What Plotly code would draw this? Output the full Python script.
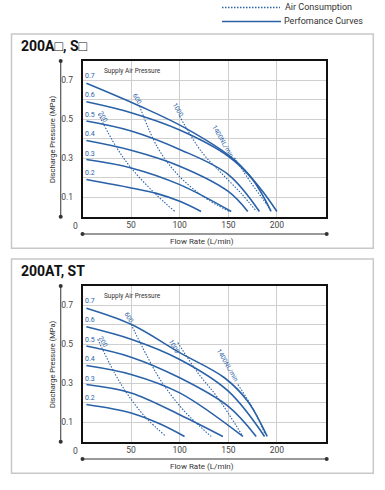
import plotly.graph_objects as go

# ---------------- data ----------------
supply_levels = ["0.7", "0.6", "0.5", "0.4", "0.3", "0.2"]
supply_values = [0.7, 0.6, 0.5, 0.4, 0.3, 0.2]

# Chart 1 : 200A□, S□  -- performance curves (flow L/min, pressure MPa)
a_perf_x = {
    "0.7": [4, 58.6, 105, 156, 184, 200],
    "0.6": [4, 50, 100, 150, 175, 194],
    "0.5": [4, 50, 100, 150, 182],
    "0.4": [4, 50, 100, 150, 170],
    "0.3": [4, 50, 100, 153],
    "0.2": [4, 50, 76, 100, 122],
}
a_perf_y = {
    "0.7": [0.686, 0.569, 0.457, 0.293, 0.138, 0.026],
    "0.6": [0.590, 0.534, 0.445, 0.310, 0.19, 0.026],
    "0.5": [0.491, 0.440, 0.345, 0.216, 0.026],
    "0.4": [0.391, 0.341, 0.259, 0.129, 0.026],
    "0.3": [0.293, 0.250, 0.164, 0.026],
    "0.2": [0.190, 0.147, 0.119, 0.078, 0.026],
}
# Chart 1 air consumption (NL/min)
air_levels = ["200", "600", "1000", "1400NL/min"]
a_air_x = {
    "200": [16.4, 34.6, 50, 74, 95],
    "600": [58.6, 77.5, 98, 125, 151],
    "1000": [99.8, 122, 142.7, 163, 179],
    "1400NL/min": [156.4, 173.6, 192.5],
}
a_air_y = {
    "200": [0.526, 0.359, 0.250, 0.121, 0.026],
    "600": [0.569, 0.353, 0.215, 0.10, 0.026],
    "1000": [0.517, 0.336, 0.224, 0.12, 0.026],
    "1400NL/min": [0.302, 0.172, 0.043],
}
a_air_label_x = [21, 56, 98, 144.5]
a_air_label_y = [0.51, 0.603, 0.546, 0.382]

# Chart 2 : 200AT, ST
t_perf_x = {
    "0.7": [4, 50, 100, 146, 170, 190],
    "0.6": [4, 50, 100, 150, 187.3],
    "0.5": [4, 50, 100, 150, 178.7],
    "0.4": [4, 50, 100, 165],
    "0.3": [4, 50, 100, 144.4],
    "0.2": [4, 50, 80, 105],
}
t_perf_y = {
    "0.7": [0.686, 0.603, 0.457, 0.328, 0.207, 0.026],
    "0.6": [0.590, 0.526, 0.422, 0.259, 0.026],
    "0.5": [0.491, 0.434, 0.328, 0.181, 0.026],
    "0.4": [0.391, 0.345, 0.250, 0.026],
    "0.3": [0.293, 0.250, 0.138, 0.026],
    "0.2": [0.190, 0.147, 0.09, 0.026],
}
t_air_x = {
    "200": [15.7, 32.9, 46.6, 65.5, 86],
    "600": [50, 65.5, 81, 105, 132.4],
    "1000": [98, 118.7, 139.3, 165],
    "1400NL/min": [159.9, 177, 187.3],
}
t_air_y = {
    "200": [0.526, 0.353, 0.241, 0.121, 0.026],
    "600": [0.603, 0.448, 0.310, 0.155, 0.026],
    "1000": [0.509, 0.353, 0.224, 0.026],
    "1400NL/min": [0.293, 0.155, 0.043],
}
t_air_label_x = [21, 47, 94, 148.7]
t_air_label_y = [0.51, 0.638, 0.485, 0.392]

x_ticks = [50, 100, 150, 200]
y_grid = [0.1, 0.2, 0.3, 0.4, 0.5, 0.6, 0.7]
y_ticktext = ["0.1", "", "0.3", "", "0.5", "", "0.7"]
panel_titles = ["200A\u25a1, S\u25a1", "200AT, ST"]

# ---------------- styling ----------------
W, H = 385, 490
BLUE = "#2a62a8"
FONT = "Roboto"
DOTS = "1.5px,1.5px"


def px(x):
    return x / W


def py(y):
    return 1 - y / H


def note(x, y, text, size, color="#333", xanchor="center", **kw):
    return dict(x=px(x), y=py(y), xref="paper", yref="paper", text=text,
                showarrow=False, xanchor=xanchor, yanchor="middle",
                font=dict(size=size, color=color, family=FONT), **kw)


fig = go.Figure()

panels = [
    (a_perf_x, a_perf_y, a_air_x, a_air_y, a_air_label_x, a_air_label_y, "x", "y", 0),
    (t_perf_x, t_perf_y, t_air_x, t_air_y, t_air_label_x, t_air_label_y, "x2", "y2", 225),
]

annotations = []
shapes = []

for pi, (pxd, pyd, axd, ayd, alx, aly, xa, ya, off) in enumerate(panels):
    for lvl in supply_levels:
        fig.add_trace(go.Scatter(
            x=pxd[lvl], y=pyd[lvl], mode="lines", xaxis=xa, yaxis=ya,
            line=dict(color=BLUE, width=1.6, shape="spline", smoothing=1.0),
            showlegend=False, hoverinfo="skip"))
    for lvl in air_levels:
        fig.add_trace(go.Scatter(
            x=axd[lvl], y=ayd[lvl], mode="lines", xaxis=xa, yaxis=ya,
            line=dict(color=BLUE, width=1.1, dash=DOTS, shape="spline", smoothing=1.0),
            showlegend=False, hoverinfo="skip"))
    # supply pressure labels
    for lvl, v in zip(supply_levels, supply_values):
        annotations.append(dict(x=8, y=v + 0.024, xref=xa, yref=ya, text=lvl,
                                showarrow=False, xanchor="center", yanchor="middle",
                                font=dict(size=7, color=BLUE, family=FONT)))
    # air consumption labels
    for lvl, lx, ly in zip(air_levels, alx, aly):
        annotations.append(dict(x=lx, y=ly, xref=xa, yref=ya, text=lvl, textangle=60,
                                showarrow=False, xanchor="center", yanchor="middle",
                                font=dict(size=6.5, color=BLUE, family=FONT)))
    annotations.append(note(102, 71 + off, "Supply Air Pressure", 6.5, xanchor="left"))
    # panel title
    annotations.append(note(19, 46 + off, "<b>%s</b>" % panel_titles[pi], 14,
                            color="#111", xanchor="left"))
    # axis titles / origin
    annotations.append(note(52, 139 + off, "Discharge Pressure (MPa)", 7.5, textangle=-90))
    annotations.append(note(202, 241 + off, "Flow Rate (L/min)", 8))
    annotations.append(note(75, 226 + off, "0", 8.5, color="#444"))
    # panel frame
    shapes.append(dict(type="rect", xref="paper", yref="paper",
                       x0=px(11.5), x1=px(373.3), y0=py(248.3 + off), y1=py(34 + off),
                       line=dict(color="#c8c8c8", width=1.5), layer="below"))
    # decorative y-axis line
    shapes.append(dict(type="line", xref="paper", yref="paper",
                       x0=px(60.7), x1=px(60.7), y0=py(61 + off), y1=py(216.7 + off),
                       line=dict(color="#555", width=1.2)))
    # decorative x-axis line
    shapes.append(dict(type="line", xref="paper", yref="paper",
                       x0=px(82.5), x1=px(326.7), y0=py(234 + off), y1=py(234 + off),
                       line=dict(color="#999", width=1.8)))
    for (cx, cy) in [(60.7, 61), (60.7, 216.7), (82.5, 234), (326.7, 234)]:
        shapes.append(dict(type="circle", xref="paper", yref="paper",
                           x0=px(cx - 2), x1=px(cx + 2), y0=py(cy + off + 2), y1=py(cy + off - 2),
                           fillcolor="#333", line=dict(width=0)))

# legend (drawn)
shapes.append(dict(type="line", xref="paper", yref="paper", x0=px(222), x1=px(280),
                   y0=py(7.5), y1=py(7.5), line=dict(color=BLUE, width=1.3, dash=DOTS)))
shapes.append(dict(type="line", xref="paper", yref="paper", x0=px(222), x1=px(281),
                   y0=py(21.5), y1=py(21.5), line=dict(color=BLUE, width=1.6)))
annotations.append(note(283, 7.5, "Air Consumption", 9, xanchor="left"))
annotations.append(note(282, 21.5, "Perfomance Curves", 9, xanchor="left"))

xaxis_common = dict(range=[0, 250], tickvals=x_ticks, showgrid=True, gridcolor="#cfcfcf",
                    gridwidth=1, zeroline=False, showline=True, mirror=True, linecolor="#111",
                    linewidth=1.5, ticks="", ticklabelstandoff=0,
                    tickfont=dict(size=8.5, color="#444", family=FONT), fixedrange=True)
yaxis_common = dict(range=[0, 0.8], tickvals=y_grid, ticktext=y_ticktext, showgrid=True,
                    gridcolor="#cfcfcf", gridwidth=1, zeroline=False, showline=True,
                    mirror=True, linecolor="#111", linewidth=1.5, ticks="",
                    ticklabelstandoff=6,
                    tickfont=dict(size=8.5, color="#444", family=FONT), fixedrange=True)

fig.update_layout(
    width=W, height=H, margin=dict(l=0, r=0, t=0, b=0),
    paper_bgcolor="white", plot_bgcolor="white",
    xaxis=dict(domain=[px(82.5), px(325.5)], anchor="y", **xaxis_common),
    yaxis=dict(domain=[py(216.5), py(61)], anchor="x", **yaxis_common),
    xaxis2=dict(domain=[px(82.5), px(325.5)], anchor="y2", **xaxis_common),
    yaxis2=dict(domain=[py(441.5), py(286)], anchor="x2", **yaxis_common),
    annotations=annotations, shapes=shapes, showlegend=False,
    font=dict(family=FONT),
)

fig.write_html("out.html", config={"displayModeBar": False},
               post_script="document.body.style.margin='0';")
